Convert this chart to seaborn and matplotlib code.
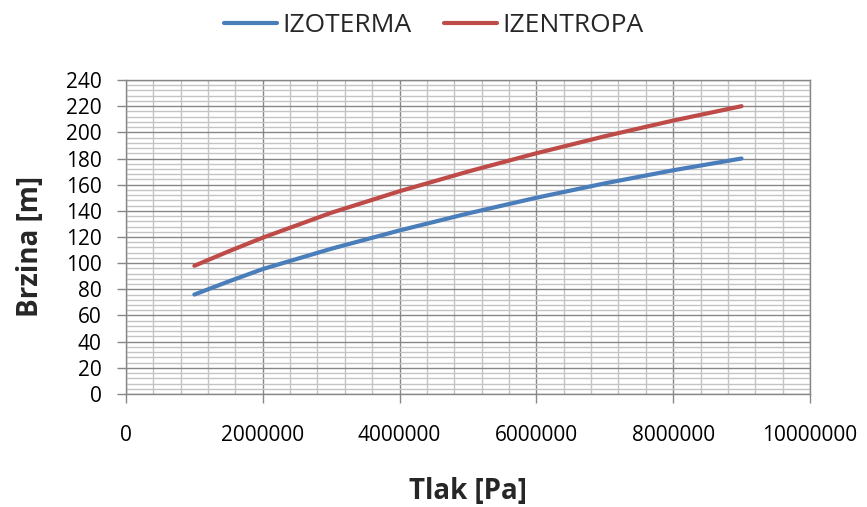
import matplotlib
matplotlib.use("Agg")
import matplotlib.pyplot as plt
import pandas as pd
import seaborn as sns
from matplotlib.ticker import MultipleLocator

pressure = [1e6, 1.5e6, 2e6, 3e6, 4e6, 5e6, 6e6, 7e6, 8e6, 9e6]
izoterma = [76, 86, 95.5, 111, 125, 138, 150, 161, 171, 180]
izentropa = [98, 109, 119.5, 138.5, 155, 170, 184, 197, 209, 220]
series_names = ["IZOTERMA", "IZENTROPA"]
x_ticks = [0, 2000000, 4000000, 6000000, 8000000, 10000000]

df = pd.concat([
    pd.DataFrame({"p": pressure, "v": izoterma, "serie": series_names[0]}),
    pd.DataFrame({"p": pressure, "v": izentropa, "serie": series_names[1]}),
])

sns.set_theme(style="white")
plt.rcParams["font.family"] = ["Open Sans", "DejaVu Sans"]

fig = plt.figure(figsize=(8.67, 5.07), dpi=100)
ax = fig.add_axes([0.1453, 0.2229, 0.7889, 0.6193])

ax.set_xlim(0, 10000000)
ax.set_ylim(0, 240)
ax.xaxis.set_major_locator(MultipleLocator(2000000))
ax.xaxis.set_minor_locator(MultipleLocator(400000))
ax.yaxis.set_major_locator(MultipleLocator(20))
ax.yaxis.set_minor_locator(MultipleLocator(4))
ax.grid(which="minor", color="#c4c4c4", linewidth=1.0)
ax.grid(which="major", color="#878787", linewidth=1.0)
ax.set_axisbelow(True)

sns.lineplot(data=df, x="p", y="v", hue="serie", palette=["#4A7EBB", "#BE4B48"],
             linewidth=3.0, ax=ax, legend=True, solid_capstyle="round")

ax.set_xticks(x_ticks)
ax.set_xticklabels([str(t) for t in x_ticks])
ax.tick_params(axis="both", which="major", labelsize=15, colors="#000000",
               length=6.5, width=1, color="#878787", direction="out")
ax.tick_params(axis="x", which="major", pad=16)
ax.tick_params(axis="y", which="major", pad=11)
ax.tick_params(axis="both", which="minor", length=0)
ax.tick_params(axis="x", bottom=True)
ax.tick_params(axis="y", left=True)

for s in ax.spines.values():
    s.set_color("#878787")
    s.set_linewidth(1.0)

ax.set_xlabel("Tlak [Pa]", fontsize=20, fontweight="bold", va="center")
ax.set_ylabel("Brzina [m]", fontsize=20, fontweight="bold", va="center")
ax.xaxis.set_label_coords(0.5, -0.312)
ax.yaxis.set_label_coords(-0.14, 0.47)

handles, labels = ax.get_legend_handles_labels()
leg = fig.legend(handles, labels, loc="center", bbox_to_anchor=(0.5, 0.95),
                 ncol=2, frameon=False, fontsize=19, handlelength=2.0,
                 columnspacing=1.25, handletextpad=0.2)
for line in leg.get_lines():
    line.set_linewidth(3.0)
ax.get_legend().remove()

fig.savefig("out.png", dpi=100)
